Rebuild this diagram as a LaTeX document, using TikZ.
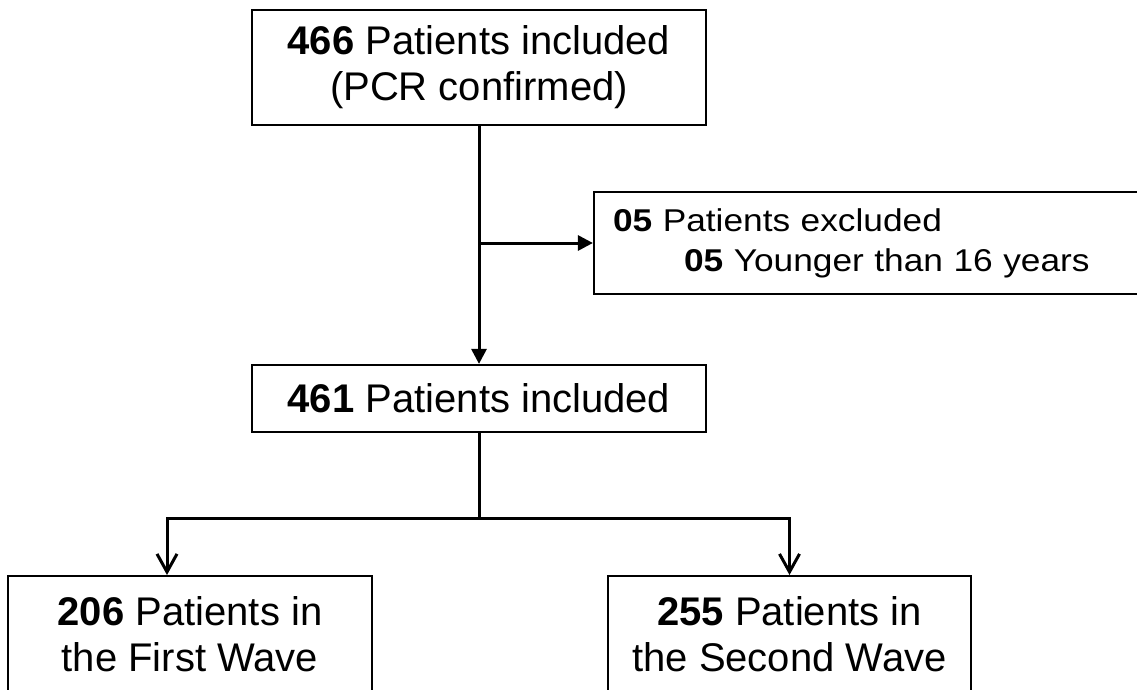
\documentclass[tikz,border=0pt]{standalone}
\usepackage{fontspec}
\setmainfont{Liberation Sans}
\newfontfamily\exclfont[FakeStretch=1.12]{Liberation Sans}
\usetikzlibrary{arrows.meta}
\begin{document}
\begin{tikzpicture}[x=1pt,y=-1pt,
  box/.style={draw=black, line width=2.2pt, inner sep=0pt, align=center,
    font=\fontsize{40}{46}\selectfont},
  conn/.style={line width=3pt, line join=miter},
  tri/.style={-{Triangle[length=15pt,width=15pt]}},
  barb/.style={-{Straight Barb[length=18pt,width=20pt]}}
]
\useasboundingbox (0,0) rectangle (1137,690);
\clip (0,0) rectangle (1137,690);

\node[box, minimum width=454pt, minimum height=115pt] (top) at (479,67.5)
  {\textbf{466} Patients included\\(PCR confirmed)};
\node[box, minimum width=454pt, minimum height=67pt] (mid) at (479,398.5)
  {\textbf{461} Patients included};
\node[box, align=left, text width=507pt, inner xsep=19pt, minimum height=102pt,
  font=\exclfont\fontsize{31.5}{40}\selectfont] (excl) at (866.5,243)
  {\textbf{05} Patients excluded\\\hspace*{71pt}\textbf{05} Younger than 16 years};
\node[box, minimum width=364pt, minimum height=117pt, anchor=north] (first) at (190,575)
  {\textbf{206} Patients in\\the First Wave};
\node[box, minimum width=363pt, minimum height=117pt, anchor=north] (second) at (789.5,575)
  {\textbf{255} Patients in\\the Second Wave};

\coordinate (split) at (479,518);
\coordinate (firstin) at (167,575);

\draw[conn, tri] (top.south) -- (mid.north);
\draw[conn, tri] (top.south |- excl.west) -- (excl.west);
\draw[conn] (mid.south) -- (split);
\draw[conn, barb] (split) -| (firstin);
\draw[conn, barb] (split) -| (second.north);
\end{tikzpicture}
\end{document}
